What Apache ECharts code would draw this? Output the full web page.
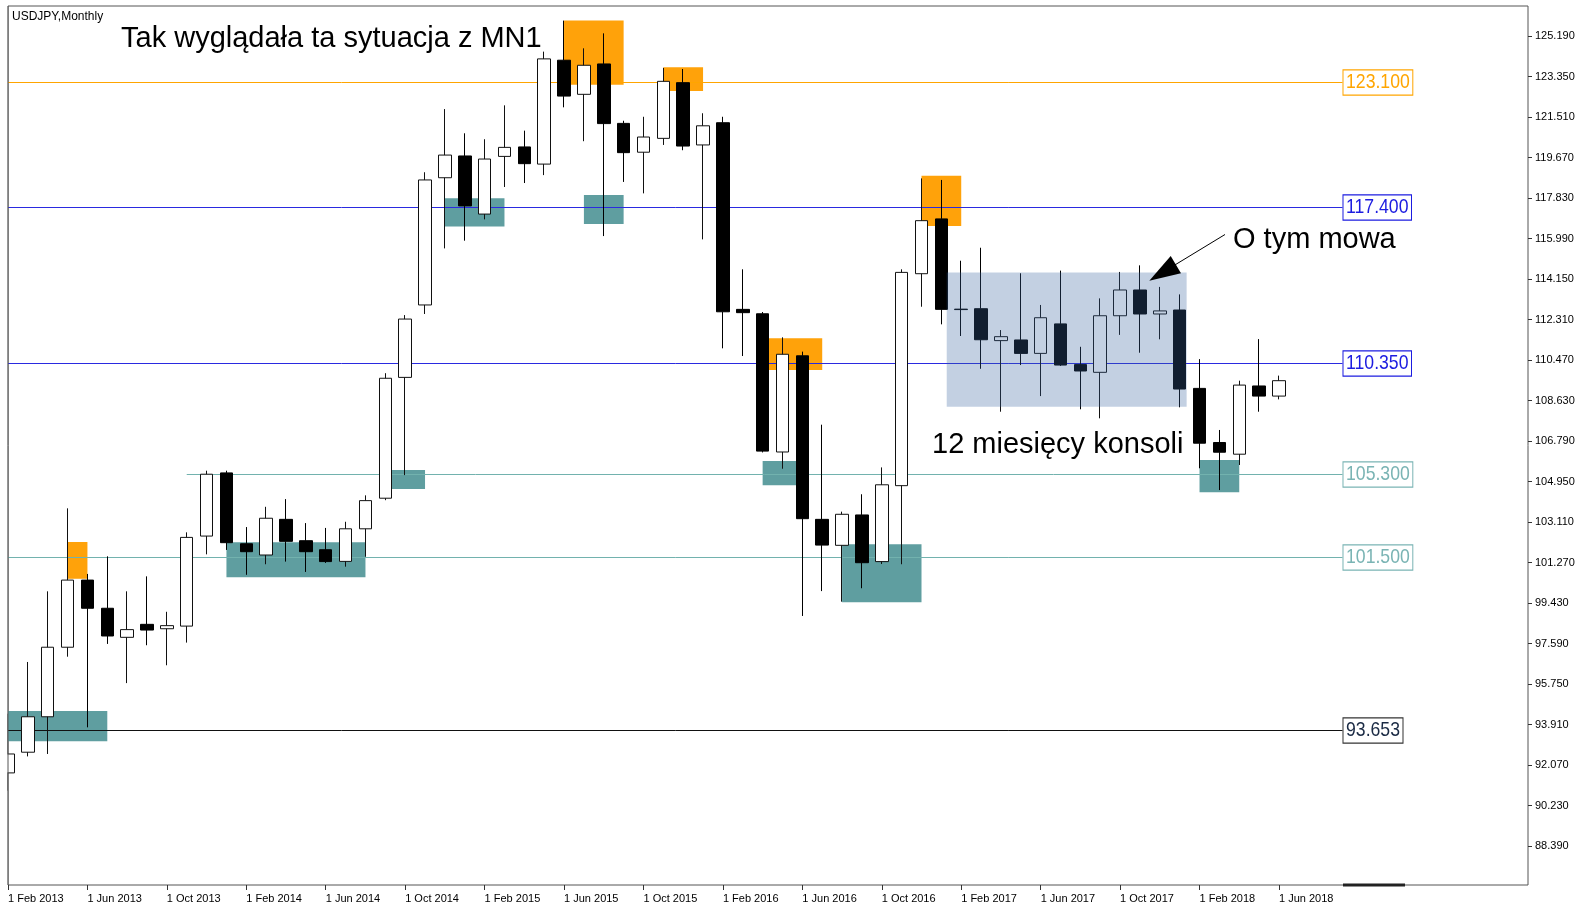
<!DOCTYPE html>
<html>
<head>
<meta charset="UTF-8">
<title>USDJPY, Monthly</title>
<script src="https://cdn.jsdelivr.net/npm/echarts@6/dist/echarts.min.js"></script>
<style>
html, body { margin: 0; padding: 0; background: #fff; }
#main { width: 1578px; height: 904px; }
</style>
</head>
<body>
<div id="main"></div>
<script type="text/javascript">
// monthly bars, Feb 2013 .. Jun 2018
var months = [
	'Feb 2013','Mar 2013','Apr 2013','May 2013','Jun 2013','Jul 2013','Aug 2013','Sep 2013','Oct 2013','Nov 2013','Dec 2013',
	'Jan 2014','Feb 2014','Mar 2014','Apr 2014','May 2014','Jun 2014','Jul 2014','Aug 2014','Sep 2014','Oct 2014','Nov 2014','Dec 2014',
	'Jan 2015','Feb 2015','Mar 2015','Apr 2015','May 2015','Jun 2015','Jul 2015','Aug 2015','Sep 2015','Oct 2015','Nov 2015','Dec 2015',
	'Jan 2016','Feb 2016','Mar 2016','Apr 2016','May 2016','Jun 2016','Jul 2016','Aug 2016','Sep 2016','Oct 2016','Nov 2016','Dec 2016',
	'Jan 2017','Feb 2017','Mar 2017','Apr 2017','May 2017','Jun 2017','Jul 2017','Aug 2017','Sep 2017','Oct 2017','Nov 2017','Dec 2017',
	'Jan 2018','Feb 2018','Mar 2018','Apr 2018','May 2018','Jun 2018'
];
var openP = [
	91.71, 92.65, 94.26, 97.42, 100.47, 99.19, 97.87, 98.46, 98.26, 98.38, 102.47,
	105.34, 102.12, 101.61, 103.23, 102.26, 101.85, 101.32, 102.80, 104.19, 109.68, 112.97, 118.75,
	119.74, 117.10, 119.72, 120.15, 119.37, 124.09, 122.54, 123.92, 121.22, 119.91, 120.54, 123.07,
	120.24, 121.25, 112.77, 112.57, 106.29, 110.66, 103.23, 102.05, 103.43, 101.31, 104.76, 114.39,
	116.88, 112.78, 112.80, 111.35, 111.38, 110.77, 112.11, 110.26, 109.91, 112.48, 113.65, 112.56,
	112.74, 109.18, 106.72, 106.19, 109.29, 108.83
];
var closeP = [
	92.57, 94.26, 97.42, 100.47, 99.19, 97.93, 98.22, 98.20, 98.40, 102.41, 105.28,
	102.17, 101.76, 103.28, 102.23, 101.76, 101.31, 102.80, 104.08, 109.64, 112.33, 118.65, 119.78,
	117.47, 119.60, 120.13, 119.39, 124.15, 122.46, 123.86, 121.21, 119.89, 120.60, 123.13, 120.19,
	121.11, 112.66, 112.62, 106.33, 110.73, 103.26, 102.06, 103.46, 101.26, 104.80, 114.45, 116.80,
	112.77, 112.76, 111.39, 111.53, 110.77, 112.39, 110.24, 109.97, 112.48, 113.65, 112.56, 112.70,
	109.15, 106.69, 106.28, 109.33, 108.83, 109.53
];
var lowP = [
	90.90, 92.46, 92.57, 96.99, 93.78, 97.57, 95.79, 97.51, 96.60, 97.63, 101.64,
	101.84, 100.71, 101.19, 101.31, 100.84, 101.25, 101.08, 101.53, 104.10, 105.24, 112.56, 115.54,
	115.89, 116.86, 118.33, 118.51, 118.87, 121.95, 120.41, 116.10, 118.56, 118.04, 120.24, 120.00,
	115.95, 111.00, 110.65, 106.27, 105.53, 98.84, 99.97, 99.49, 100.10, 101.20, 101.19, 112.89,
	112.09, 111.56, 110.07, 108.12, 110.24, 108.83, 110.20, 108.23, 107.82, 111.61, 110.80, 111.41,
	108.32, 105.55, 104.56, 105.70, 108.12, 108.68
];
var highP = [
	94.40, 96.75, 99.96, 103.73, 100.75, 101.55, 99.96, 100.64, 99.03, 102.64, 105.44,
	105.44, 102.88, 103.80, 104.15, 103.06, 102.84, 103.12, 104.32, 109.87, 112.51, 119.00, 121.87,
	120.77, 120.50, 122.04, 120.89, 124.48, 125.89, 124.63, 125.31, 121.34, 121.52, 123.74, 123.69,
	121.68, 121.52, 114.59, 112.65, 111.50, 110.85, 107.53, 103.58, 104.37, 105.59, 114.59, 118.72,
	118.65, 114.98, 115.57, 111.83, 114.41, 112.97, 114.53, 111.07, 113.27, 114.47, 114.77, 113.79,
	113.45, 110.51, 107.29, 109.53, 111.42, 109.76
];

var yTicks = [125.19, 123.35, 121.51, 119.67, 117.83, 115.99, 114.15, 112.31, 110.47, 108.63, 106.79,
	104.95, 103.11, 101.27, 99.43, 97.59, 95.75, 93.91, 92.07, 90.23, 88.39];
var xTickLabels = ['1 Feb 2013','1 Jun 2013','1 Oct 2013','1 Feb 2014','1 Jun 2014','1 Oct 2014','1 Feb 2015',
	'1 Jun 2015','1 Oct 2015','1 Feb 2016','1 Jun 2016','1 Oct 2016','1 Feb 2017','1 Jun 2017','1 Oct 2017',
	'1 Feb 2018','1 Jun 2018'];

// zones: [from bar, to bar, upper price, lower price]
var supplyZones = [
	[3, 4, 102.20, 100.53],
	[28, 31, 125.89, 122.98],
	[33, 35, 123.77, 122.69],
	[38, 41, 111.46, 110.02],
	[46, 48, 118.84, 116.56]
];
var demandZones = [
	[0, 5, 94.52, 93.15],
	[11, 18, 102.19, 100.60],
	[19, 21, 105.47, 104.61],
	[22, 25, 117.82, 116.53],
	[29, 31, 117.97, 116.65],
	[38, 40, 105.88, 104.78],
	[42, 46, 102.10, 99.46],
	[60, 62, 105.93, 104.46]
];
var rangeZone = [[47.27, 59.35, 114.44, 108.35]];

// horizontal levels: [from bar, to bar, price]
var levels = [
	[0, 67.2, 123.100],
	[0, 67.2, 117.400],
	[0, 67.2, 110.350],
	[9, 67.2, 105.300],
	[0, 67.2, 101.500],
	[0, 67.2, 93.653]
];
var levelColors = ['#ffa500', '#2a2ae0', '#2a2ae0', '#72b2ae', '#72b2ae', '#111111'];
var levelTextColors = ['#ffa500', '#1c1ce0', '#1c1ce0', '#7ab4b4', '#7ab4b4', '#1a2a44'];
var levelBoxColors = ['#ffa500', '#1c1ce0', '#1c1ce0', '#7ab4b4', '#7ab4b4', '#333333'];

var candles = [];
for (var i = 0; i < months.length; i++) {
	candles.push([i, openP[i], closeP[i], lowP[i], highP[i]]);
}
var xTickPos = [];
for (var k = 0; k < xTickLabels.length; k++) {
	xTickPos.push(months.indexOf(xTickLabels[k].slice(2)));
}

function zoneSeries(list, fill, z) {
	return {
		type: 'custom',
		z: z,
		silent: true,
		data: list,
		encode: { x: [0, 1], y: [2, 3] },
		renderItem: function (params, api) {
			var a = api.coord([api.value(0), api.value(2)]);
			var b = api.coord([api.value(1), api.value(3)]);
			return {
				type: 'rect',
				shape: { x: a[0], y: a[1], width: b[0] - a[0], height: b[1] - a[1] },
				style: { fill: fill }
			};
		}
	};
}

var myChart = echarts.init(document.getElementById('main'));
var option = {
	animation: false,
	backgroundColor: '#fff',
	grid: {
		left: 8, right: 50, top: 6, bottom: 19,
		show: true, borderColor: '#555', borderWidth: 1
	},
	xAxis: {
		type: 'value',
		min: 0,
		max: 76.54,
		axisLine: { show: false, onZero: false },
		splitLine: { show: false },
		axisTick: { show: true, length: 5, customValues: xTickPos, lineStyle: { color: '#333' } },
		axisLabel: {
			customValues: xTickPos,
			formatter: function (v) { return '1 ' + months[Math.round(v)]; },
			align: 'left',
			margin: 8,
			fontSize: 11,
			fontFamily: 'Liberation Sans',
			color: '#000'
		}
	},
	yAxis: {
		type: 'value',
		position: 'right',
		min: 86.617,
		max: 126.553,
		axisLine: { show: false, onZero: false },
		splitLine: { show: false },
		axisTick: { show: true, length: 4, customValues: yTicks, lineStyle: { color: '#333' } },
		axisLabel: {
			customValues: yTicks,
			formatter: function (v) { return v.toFixed(3); },
			margin: 7,
			fontSize: 11,
			fontFamily: 'Liberation Sans',
			color: '#000'
		}
	},
	series: [
		zoneSeries(demandZones, '#5f9ea0', 1),
		zoneSeries(supplyZones, '#ffa20a', 1),
		{
			type: 'custom',
			z: 2,
			silent: true,
			data: levels,
			encode: { x: [0, 1], y: 2 },
			renderItem: function (params, api) {
				var idx = params.dataIndex;
				var a = api.coord([api.value(0), api.value(2)]);
				var b = api.coord([api.value(1), api.value(2)]);
				var y = Math.round(a[1]) + 0.5;
				return {
					type: 'group',
					children: [{
						type: 'line',
						shape: { x1: a[0], y1: y, x2: b[0], y2: y },
						style: { stroke: levelColors[idx], lineWidth: 1 }
					}, {
						type: 'text',
						x: Math.round(b[0]) + 0.5,
						y: y,
						scaleX: 0.84,
						style: {
							text: levels[idx][2].toFixed(3),
							x: 0, y: 0,
							align: 'left',
							verticalAlign: 'middle',
							fontSize: 21,
							fontFamily: 'Liberation Sans',
							fill: levelTextColors[idx],
							backgroundColor: '#fff',
							borderColor: levelBoxColors[idx],
							borderWidth: 1.2,
							padding: [2, 3, 1, 3]
						}
					}]
				};
			}
		},
		{
			type: 'candlestick',
			z: 3,
			clip: true,
			data: candles,
			encode: { x: 0, y: [1, 2, 3, 4] },
			barWidth: 13,
			itemStyle: {
				color: '#ffffff',
				color0: '#000000',
				borderColor: '#111111',
				borderColor0: '#000000',
				borderWidth: 1
			}
		},
		zoneSeries(rangeZone, 'rgba(56,99,159,0.3)', 4)
	],
	graphic: [
		// mask the part of the first bar that lies left of the chart frame
		{ type: 'rect', z: 20, shape: { x: 0, y: 0, width: 7.5, height: 904 }, style: { fill: '#fff' } },
		{ type: 'line', z: 21, shape: { x1: 8, y1: 6, x2: 8, y2: 885 }, style: { stroke: '#555', lineWidth: 1 } },
		{ type: 'rect', z: 21, shape: { x: 1343, y: 883.5, width: 62, height: 3 }, style: { fill: '#222' } },
		{ type: 'text', x: 12, y: 17, z: 10,
			style: { text: 'USDJPY,Monthly', fontSize: 12, fontFamily: 'Liberation Sans', fill: '#000', verticalAlign: 'middle' } },
		{ type: 'text', x: 121, y: 39, z: 10,
			style: { text: 'Tak wyglądała ta sytuacja z MN1', fontSize: 29, fontFamily: 'Liberation Sans', fill: '#000', verticalAlign: 'middle' } },
		{ type: 'text', x: 1233, y: 240, z: 10,
			style: { text: 'O tym mowa', fontSize: 29, fontFamily: 'Liberation Sans', fill: '#000', verticalAlign: 'middle' } },
		{ type: 'text', x: 932, y: 445, z: 10,
			style: { text: '12 miesięcy konsoli', fontSize: 29, fontFamily: 'Liberation Sans', fill: '#000', verticalAlign: 'middle' } },
		{ type: 'line', z: 10, shape: { x1: 1225, y1: 234.5, x2: 1174, y2: 265.5 }, style: { stroke: '#000', lineWidth: 1 } },
		{ type: 'polygon', z: 10, shape: { points: [[1149.3, 280.7], [1170.7, 256], [1181, 273.3]] }, style: { fill: '#000' } }
	]
};
myChart.setOption(option);
</script>
</body>
</html>
